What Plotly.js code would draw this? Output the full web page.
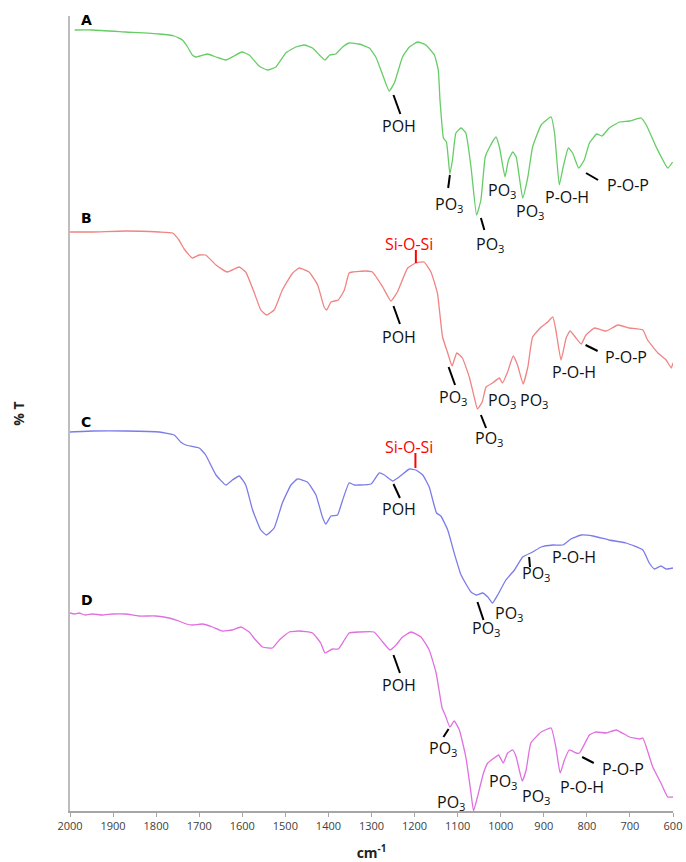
<!DOCTYPE html>
<html>
<head>
<meta charset="utf-8">
<script src="https://cdn.plot.ly/plotly-3.0.1.min.js"></script>
<style>html,body{margin:0;padding:0;background:#fff;}#chart{width:686px;height:862px;}</style>
</head>
<body>
<div id="chart"></div>
<script>
// Wavenumbers (cm-1) and offset %T values (arbitrary stacked units)
const wnA = [1989,1948,1871,1793,1758,1739,1727,1716,1708,1681,1661,1638,1619,1601,1584,1561,1542,1522,1499,1476,1456,1437,1421,1408,1397,1383,1367,1352,1329,1305,1290,1274,1259,1247,1228,1212,1193,1174,1154,1145,1141,1136,1133,1126,1118,1112,1104,1092,1081,1069,1056,1046,1036,1027,1011,1003,990,982,972,964,949,937,926,906,883,875,864,855,843,833,819,806,794,777,765,748,724,701,674,662,639,612,601];
const tA  = [781,781,779,777,775,771,764,756,754,757,754,751,755,759,756,745,741,744,758,764,766,763,756,751,756,757,764,768,767,763,754,736,720,728,754,764,769,766,756,741,711,684,673,669,637,651,678,683,678,644,596,611,654,663,674,664,634,651,659,654,613,634,664,686,694,678,626,644,663,658,643,651,668,677,675,683,689,690,693,686,664,643,649];

const wnB = [2000,1948,1871,1793,1762,1747,1735,1716,1700,1685,1661,1635,1607,1592,1572,1557,1544,1526,1507,1483,1468,1445,1425,1410,1404,1394,1377,1363,1352,1344,1313,1298,1274,1255,1240,1216,1197,1178,1162,1147,1135,1123,1113,1102,1089,1073,1061,1054,1043,1034,1019,1003,996,984,971,961,948,937,926,906,891,879,872,860,848,839,827,813,802,782,755,728,701,670,659,635,616,604,600];
const tB  = [579,579,580,579,578,571,562,553,556,556,546,539,544,539,518,501,496,501,521,538,543,539,526,504,501,509,511,521,538,539,540,539,524,510,519,543,548,549,539,518,474,458,445,458,453,434,413,402,409,424,428,433,428,439,455,446,427,444,474,484,489,494,481,451,473,480,474,467,476,483,480,486,483,481,471,458,451,443,448];

const wnC = [2000,1948,1871,1793,1758,1743,1731,1700,1685,1661,1638,1623,1607,1592,1576,1557,1544,1526,1507,1487,1472,1449,1429,1414,1406,1394,1379,1367,1352,1340,1329,1301,1282,1270,1251,1236,1212,1197,1181,1166,1149,1139,1123,1108,1092,1069,1057,1042,1030,1019,1007,988,968,949,926,906,879,856,837,813,786,748,709,670,655,643,628,616,600];
const tC  = [379,380,380,379,376,369,366,363,356,336,326,331,335,326,301,281,276,283,308,326,332,329,316,294,287,295,296,311,328,326,326,327,338,336,330,334,342,341,336,324,298,295,281,258,236,219,216,218,214,208,216,231,241,254,259,264,266,266,272,276,275,271,268,261,248,242,245,242,243];

const wnD = [2000,1990,1979,1965,1948,1925,1902,1871,1840,1801,1770,1747,1730,1716,1693,1669,1646,1623,1603,1584,1569,1553,1530,1514,1491,1468,1437,1418,1408,1391,1377,1363,1352,1329,1294,1274,1257,1243,1228,1208,1185,1166,1150,1136,1129,1118,1108,1096,1081,1069,1063,1054,1040,1030,1015,1005,994,984,972,964,950,941,930,906,883,872,862,852,841,825,817,794,779,755,732,701,678,670,662,647,628,612,600];
const tD  = [198,197,198,196,197,196,197,197,195,195,193,190,187,186,187,184,180,181,184,179,171,164,163,171,179,180,178,168,158,162,162,171,178,179,179,169,161,166,174,179,174,161,138,103,96,84,90,81,54,18,0,14,38,48,53,56,48,58,61,54,30,41,68,79,83,64,38,51,61,58,58,76,79,78,81,74,72,73,64,44,28,14,14];

const xTicks = [2000,1900,1800,1700,1600,1500,1400,1300,1200,1100,1000,900,800,700,600];

const seriesNames = ['A','B','C','D'];
const seriesColors = ['#66cc66','#f08484','#7b7bea','#e070e0'];

// Band labels: [wavenumber, value, text, colour]
const bandLabels = [
  [1962,791,'<b>A</b>','#000'],[1962,593,'<b>B</b>','#000'],[1962,389,'<b>C</b>','#000'],[1960,211,'<b>D</b>','#000'],
  [1237,685,'POH','#111'],[1121,607,'PO<sub>3</sub>','#111'],[1026,567,'PO<sub>3</sub>','#111'],[997,621,'PO<sub>3</sub>','#111'],
  [932,600,'PO<sub>3</sub>','#111'],[845,614,'P-O-H','#111'],[705,626,'P-O-P','#111'],
  [1212,567,'Si-O-Si','#ff0000'],[1237,474,'POH','#111'],[1110,414,'PO<sub>3</sub>','#111'],[1027,373,'PO<sub>3</sub>','#111'],
  [997,411,'PO<sub>3</sub>','#111'],[922,411,'PO<sub>3</sub>','#111'],[829,439,'P-O-H','#111'],[709,454,'P-O-P','#111'],
  [1214,364,'Si-O-Si','#ff0000'],[1237,302,'POH','#111'],[1034,183,'PO<sub>3</sub>','#111'],[980,198,'PO<sub>3</sub>','#111'],
  [918,238,'PO<sub>3</sub>','#111'],[829,254,'P-O-H','#111'],
  [1237,126,'POH','#111'],[1135,63,'PO<sub>3</sub>','#111'],[1115,9,'PO<sub>3</sub>','#111'],[994,30,'PO<sub>3</sub>','#111'],
  [918,15,'PO<sub>3</sub>','#111'],[811,24,'P-O-H','#111'],[717,42,'P-O-P','#111']
];
// Leader lines: [wn0, v0, wn1, v1, colour]
const leaders = [
  [1249,716,1233,697,'#000'],[1118,636,1122,623,'#000'],[1046,593,1038,581,'#000'],[802,638,774,631,'#000'],
  [1197,561,1197,548,'#ff0000'],[1249,505,1234,487,'#000'],[1121,444,1106,426,'#000'],[1046,396,1034,383,'#000'],[803,466,775,460,'#000'],
  [1198,358,1198,343,'#ff0000'],[1249,327,1234,313,'#000'],[1054,209,1040,191,'#000'],[934,254,932,244,'#000'],
  [1249,156,1234,138,'#000'],[1121,82,1133,74,'#000'],[811,54,784,48,'#000']
];

const xs = [wnA,wnB,wnC,wnD], ys = [tA,tB,tC,tD];
const traces = xs.map((x,i)=>({
  type:'scatter', mode:'lines', x:x, y:ys[i], name:seriesNames[i],
  line:{color:seriesColors[i], width:1.3, shape:'spline', smoothing:0.4},
  hoverinfo:'skip', showlegend:false
}));

const annotations = bandLabels.map(b=>{
  const isLetter = b[2].indexOf('<b>')===0;
  return {
    x:b[0], y:b[1], xref:'x', yref:'y', text:b[2], showarrow:false,
    font:{family: isLetter ? 'DejaVu Sans, sans-serif' : 'Open Sans, sans-serif',
          size: isLetter ? 14 : 16, color:b[3]}
  };
});
const shapes = leaders.map(l=>({
  type:'line', xref:'x', yref:'y', x0:l[0], y0:l[1], x1:l[2], y1:l[3],
  line:{color:l[4], width:2}
}));

const layout = {
  width:686, height:862,
  margin:{l:70, r:13, t:16, b:51},
  paper_bgcolor:'#fff', plot_bgcolor:'#fff',
  showlegend:false,
  font:{family:'Open Sans, sans-serif', color:'#595959', size:12},
  xaxis:{
    range:[2000,600], autorange:false,
    tickmode:'array', tickvals:xTicks, ticktext:xTicks.map(String),
    showgrid:false, zeroline:false,
    showline:true, linecolor:'#a6a6a6', linewidth:1.5,
    ticks:'outside', ticklen:4, tickcolor:'#a6a6a6',
    tickfont:{size:11, color:'#404040'},
    title:{text:'<b>cm<sup>-1</sup></b>', font:{size:14, color:'#222'}, standoff:18},
    automargin:false
  },
  yaxis:{
    range:[0,795], autorange:false,
    showticklabels:false, ticks:'', showgrid:false, zeroline:false,
    showline:true, linecolor:'#bdbdbd', linewidth:2,
    title:{text:'<b>% T</b>', font:{size:14, color:'#222'}, standoff:40},
    automargin:false
  },
  annotations:annotations,
  shapes:shapes
};

Plotly.newPlot('chart', traces, layout, {staticPlot:true, displayModeBar:false});
</script>
</body>
</html>
